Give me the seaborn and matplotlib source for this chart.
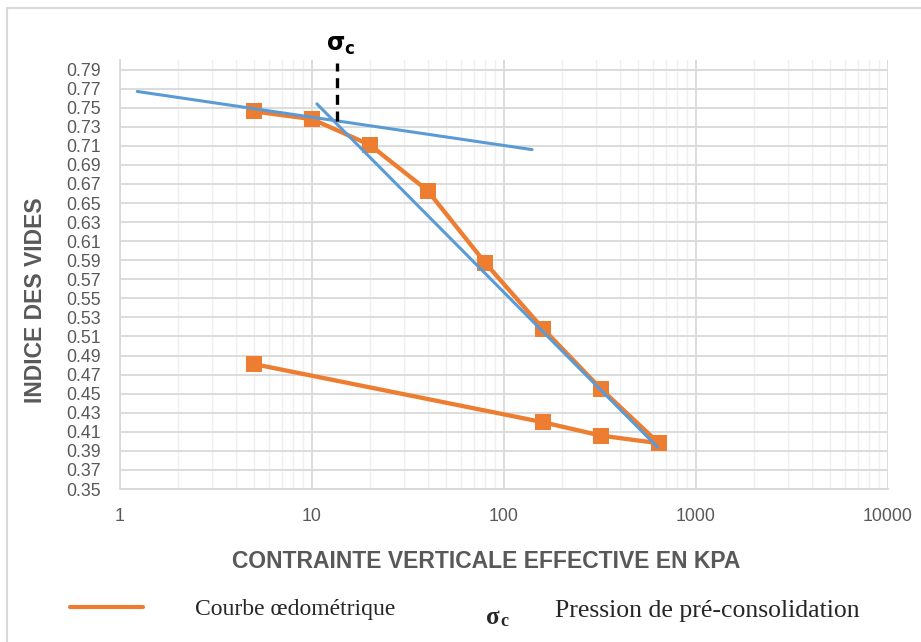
import numpy as np
import pandas as pd
import matplotlib.pyplot as plt
import matplotlib.ticker as mticker
from matplotlib.patches import Rectangle
from matplotlib.lines import Line2D
import seaborn as sns

# courbe oedometrique (chargement puis dechargement)
charge_kpa = [5, 10, 20, 40, 80, 160, 320, 640]
charge_e = [0.746, 0.738, 0.711, 0.663, 0.587, 0.518, 0.455, 0.398]
decharge_kpa = [640, 320, 160, 5]
decharge_e = [0.398, 0.406, 0.420, 0.481]

# droites de construction (Casagrande)
droite1_kpa = [1.23, 140]
droite1_e = [0.767, 0.706]
droite2_kpa = [10.6, 630]
droite2_e = [0.754, 0.394]
sigma_c = 13.5
sigma_c_e = [0.736, 0.797]

yticks = np.round(np.arange(0.35, 0.80, 0.02), 2)

orange = '#ED7D31'
bleu = '#5B9BD5'
gris = '#595959'

sns.set_style("white")
plt.rcParams['font.family'] = ['Liberation Sans', 'DejaVu Sans']

fig = plt.figure(figsize=(9.21, 6.42), dpi=100)
ax = fig.add_axes([120/921, 153/642, 768/921, 429/642])

df_c = pd.DataFrame({'kpa': charge_kpa, 'e': charge_e})
df_d = pd.DataFrame({'kpa': decharge_kpa, 'e': decharge_e})

sns.lineplot(data=df_c, x='kpa', y='e', ax=ax, color=orange, lw=3.1,
             marker='s', markersize=11, markeredgewidth=0, sort=False, zorder=3)
sns.lineplot(data=df_d, x='kpa', y='e', ax=ax, color=orange, lw=3.1,
             marker='s', markersize=11, markeredgewidth=0, sort=False, zorder=3)
ax.plot(droite1_kpa, droite1_e, color=bleu, lw=2.2, zorder=4)
ax.plot(droite2_kpa, droite2_e, color=bleu, lw=2.2, zorder=4)
ax.plot([sigma_c, sigma_c], sigma_c_e, color='black', lw=2.4, ls=(0, (3, 2)), zorder=5)

ax.set_xscale('log')
ax.set_xlim(1, 10000)
ax.set_ylim(0.35, 0.80)
ax.set_yticks(yticks)
ax.yaxis.set_major_formatter(mticker.FormatStrFormatter('%.2f'))
ax.xaxis.set_major_formatter(mticker.FuncFormatter(lambda v, p: f'{v:g}'))
ax.xaxis.set_minor_locator(mticker.LogLocator(base=10, subs=np.arange(2, 10)))
ax.xaxis.set_minor_formatter(mticker.NullFormatter())

ax.grid(which='major', color='#d9d9d9', lw=1.3)
ax.grid(which='minor', axis='x', color='#efefef', lw=1)
ax.tick_params(which='both', length=0, labelsize=12.8, labelcolor=gris)
ax.tick_params(axis='x', pad=14)
ax.tick_params(axis='y', pad=14)
for s in ['top', 'right']:
    ax.spines[s].set_visible(False)
for s in ['left', 'bottom']:
    ax.spines[s].set_color('#d9d9d9')
    ax.spines[s].set_linewidth(1.3)

ax.set_xlabel('CONTRAINTE VERTICALE EFFECTIVE EN KPA', fontsize=16.5,
              fontweight='bold', color=gris)
ax.set_ylabel('INDICE DES VIDES', fontsize=16.5, fontweight='bold', color=gris)
ax.xaxis.set_label_coords(0.4766, -0.142)
ax.yaxis.set_label_coords(-0.095, 0.44)

ax.text(sigma_c * 1.05, 0.803, r'$\mathbf{\sigma_c}$', fontsize=17, ha='center', va='bottom',
        color='black')

# cadre du graphique
fig.patches.append(Rectangle((7/921, -0.1), 1.2, 1 - 8/642 + 0.1, transform=fig.transFigure,
                             fill=False, edgecolor='#d9d9d9', lw=1.5))

# legende
fig.add_artist(Line2D([70/921, 143/921], [1 - 607/642] * 2, color=orange, lw=3))
fig.text(195/921, 1 - 609/642, 'Courbe œdométrique', fontsize=17, family='Liberation Serif',
         va='center', ha='left')
fig.text(486/921, 1 - 617/642, 'σ', fontsize=18, family='Liberation Serif',
         fontweight='bold', va='center', ha='left')
fig.text(500/921, 1 - 621/642, 'c', fontsize=13, family='Liberation Serif',
         fontweight='bold', va='center', ha='left')
fig.text(555/921, 1 - 611/642, 'Pression de pré-consolidation', fontsize=18.5,
         family='Liberation Serif', va='center', ha='left')

fig.savefig('out.png', dpi=100)
